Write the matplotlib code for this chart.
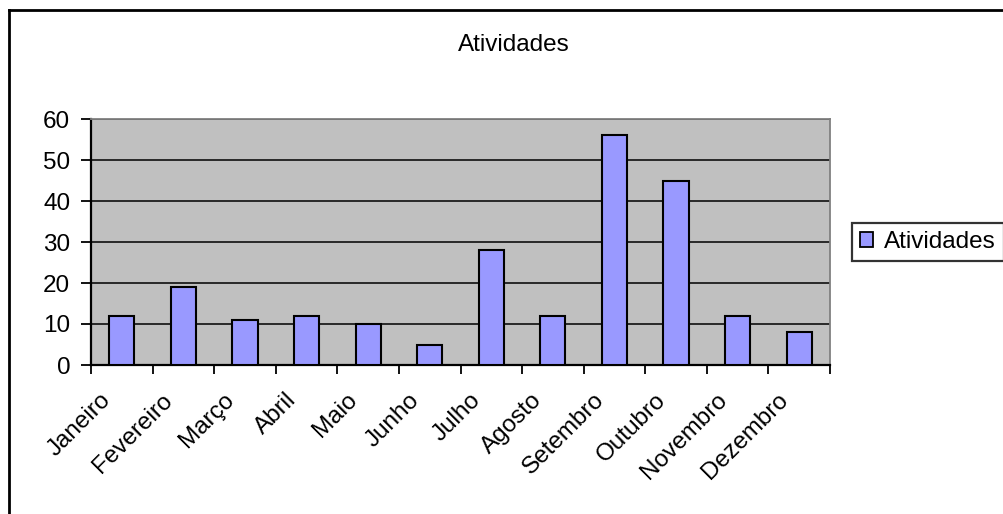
import matplotlib
matplotlib.use("Agg")
import matplotlib.pyplot as plt
from matplotlib.lines import Line2D
from matplotlib.patches import Patch
from matplotlib.transforms import ScaledTranslation

# Monthly activity counts
months = ["Janeiro", "Fevereiro", "Março", "Abril", "Maio", "Junho",
          "Julho", "Agosto", "Setembro", "Outubro", "Novembro", "Dezembro"]
atividades = [12, 19, 11, 12, 10, 5, 28, 12, 56, 45, 12, 8]
y_ticks = [0, 10, 20, 30, 40, 50, 60]
series_name = "Atividades"
title = "Atividades"

W, H, DPI = 1004, 514, 100
plt.rcParams["font.family"] = ["Liberation Sans", "DejaVu Sans"]
FS = 17.5

fig = plt.figure(figsize=(W / DPI, H / DPI), dpi=DPI)
fig.patch.set_facecolor("white")

def fx(px):
    return px / W

def fy(py):
    return 1 - py / H

# plot area
left, right, top, bottom = 91, 830, 119, 365
ax = fig.add_axes([fx(left), fy(bottom), fx(right - left), (bottom - top) / H])
ax.set_facecolor("#C0C0C0")

x = list(range(len(months)))
ax.bar(x, atividades, width=0.41, color="#9999FF", edgecolor="black",
       linewidth=1.5, zorder=3)

ax.set_xlim(-0.5, len(months) - 0.5)
ax.set_ylim(0, 60)
ax.set_yticks(y_ticks)
ax.set_yticklabels([str(v) for v in y_ticks], fontsize=FS)
ax.yaxis.grid(True, color="black", linewidth=1.1, zorder=1)
ax.set_axisbelow(True)

# tick marks on category boundaries, labels drawn separately
ax.set_xticks([i - 0.5 for i in range(len(months) + 1)])
ax.set_xticklabels([])
ax.tick_params(axis="x", direction="out", length=6.5, width=1.3, color="black")
ax.tick_params(axis="y", direction="out", length=7.5, width=1.3, color="black", pad=7.5)

for side in ("top", "right"):
    ax.spines[side].set_color("#808080")
    ax.spines[side].set_linewidth(1.3)
for side in ("left", "bottom"):
    ax.spines[side].set_color("black")
    ax.spines[side].set_linewidth(1.6)

# rotated month labels
offset = ScaledTranslation(-14 / DPI, -32 / DPI, fig.dpi_scale_trans)
for i, m in enumerate(months):
    ax.text(i, 0, m, transform=ax.get_xaxis_transform() + offset,
            rotation=45, rotation_mode="anchor", ha="right", va="center",
            fontsize=FS, clip_on=False)

# title
fig.text(fx(513.5), fy(45), title, ha="center", va="center", fontsize=FS)

# legend
leg = fig.legend(handles=[Patch(facecolor="#9999FF", edgecolor="black", linewidth=1.3)],
                 labels=[series_name], loc="center left",
                 bbox_to_anchor=(fx(852), fy(242)), frameon=True, fancybox=False,
                 fontsize=FS, handlelength=0.55, handleheight=0.55,
                 handletextpad=0.45, borderpad=0.32, borderaxespad=0)
leg.get_frame().set_edgecolor("black")
leg.get_frame().set_linewidth(1.6)

# chart frame (top and left edges)
fig.add_artist(Line2D([fx(9), 1.0], [fy(10), fy(10)], color="black", linewidth=2))
fig.add_artist(Line2D([fx(9), fx(9)], [fy(10), 0.0], color="black", linewidth=2))

fig.savefig("out.png", dpi=DPI)
